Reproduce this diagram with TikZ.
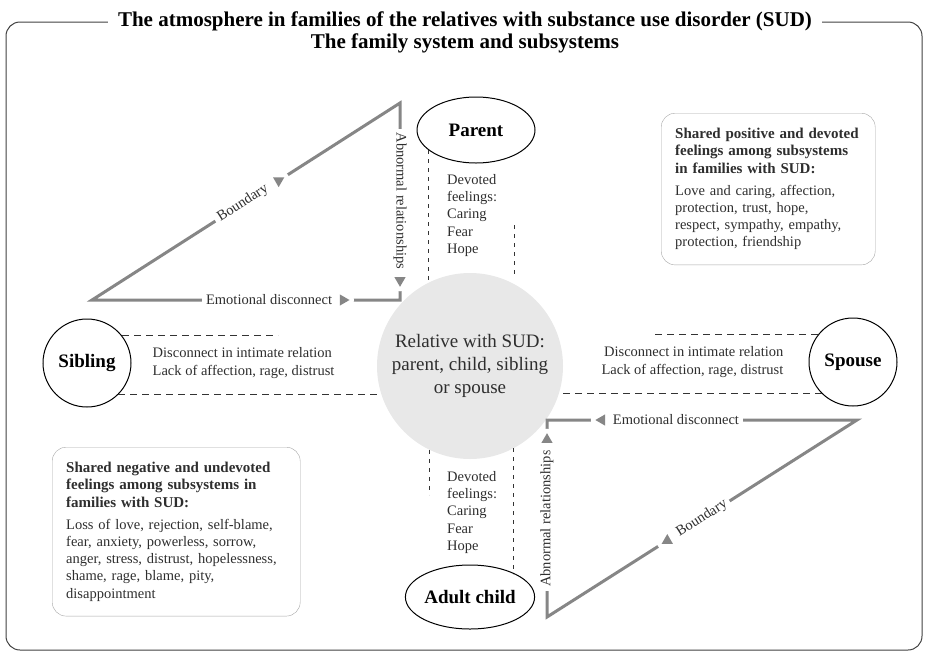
\documentclass[tikz,border=0pt]{standalone}
\usepackage{fontspec}
\setmainfont{Liberation Serif}
\usetikzlibrary{positioning, shapes.geometric}
\definecolor{linegray}{HTML}{868686}
\definecolor{fillgray}{HTML}{E8E8E8}
\definecolor{txt}{HTML}{2E2E2E}
\newcommand{\hdfont}{\fontsize{15}{17.2}\selectfont\bfseries}

\begin{document}
\begin{tikzpicture}[x=1pt, y=-1pt,
                person/.style={draw, line width=1pt, text=black, font=\fontsize{19}{22}\selectfont\bfseries, inner sep=0pt},
                tri/.style={draw=linegray, line width=3pt, line join=miter},
                divider/.style={draw=black!80, line width=0.8pt, dash pattern=on 7pt off 5pt},
                dividerv/.style={draw=black!80, line width=0.8pt, dash pattern=on 4pt off 5pt},
                lbl/.style={fill=white, text=txt, font=\fontsize{14.5}{16}\selectfont, inner xsep=4pt, inner ysep=1pt},
                mk/.style={circle, fill=white, minimum size=22pt, inner sep=0pt,
                    label={[regular polygon, regular polygon sides=3, fill=linegray, inner sep=0pt, minimum size=13pt, shape border rotate=#1]center:{}}},
                note/.style={text=txt, font=\fontsize{14.5}{17.3}\selectfont, align=left, inner sep=0pt},
                box/.style={draw=black!35, rounded corners=14pt, text=txt, font=\fontsize{14.5}{17.2}\selectfont, align=left, inner xsep=14pt, inner ysep=15pt, anchor=north west},
            ]
            \useasboundingbox (0,0) rectangle (926,654);

            % Frame and title
            \draw[black!75, line width=1pt, rounded corners=14pt] (6,22) rectangle (922,650);
            \node[fill=white, inner xsep=10pt, inner ysep=1pt, font=\fontsize{21}{23}\selectfont\bfseries] (title) at (465,21) {The atmosphere in families of the relatives with substance use disorder (SUD)};
            \node[font=\fontsize{21}{23}\selectfont\bfseries, inner ysep=2pt, below=0pt of title] (sub) {The family system and subsystems};

            % Relative in the middle
            \node[circle, fill=fillgray, minimum size=186pt, align=center, text=txt, font=\fontsize{19}{23}\selectfont] (rel) at (470,366) {Relative with SUD:\\parent, child, sibling\\or spouse};

            % Family members
            \node[person, ellipse, minimum width=118pt, minimum height=66pt] (par) at (476,130) {Parent};
            \node[person, ellipse, minimum width=116pt, minimum height=64pt] (chd) at (470,597) {Adult child};
            \node[person, circle, minimum size=88pt] (sib) at (87,363) {Sibling};
            \node[person, circle, minimum size=88pt] (spo) at (853,362) {Spouse};

            % Texts between the dashed lines
            \node[note, right=21pt of sib] (sibtxt) {Disconnect in intimate relation\\Lack of affection, rage, distrust};
            \node[note, align=right, left=25pt of spo] (spotxt) {Disconnect in intimate relation\\Lack of affection, rage, distrust};
            \node[note, anchor=north west] (partxt) at (447,174) {Devoted\\feelings:\\Caring\\Fear\\Hope};
            \node[note, anchor=north west] (chdtxt) at (447,471) {Devoted\\feelings:\\Caring\\Fear\\Hope};

            % Dashed lines
            \draw[divider] (sib.38) -- +(156,0);
            \draw[divider] (sib.-45) -- (sib.-45 -| rel.198);
            \draw[divider] (spo.142) -- +(-166,0);
            \draw[divider] (spo.225) -- (spo.225 -| rel.-18);
            \draw[dividerv] (par.203) -- (par.203 |- rel.116);
            \draw[dividerv] (514,225) -- (514,277);
            \draw[dividerv] (rel.244) -- +(0,45);
            \draw[dividerv] (rel.298) -- +(0,126);

            % Triangle between parent and sibling
            \coordinate (tlA) at (92,300);
            \coordinate (tlB) at (400,103);
            \coordinate (tlC) at (400,300);
            \draw[tri] (tlA) -- (tlB) -- (tlC) -- cycle;
            \path (tlA) -- (tlB) node[lbl, sloped, pos=0.49] (bnd1) {Boundary};
            \path (tlA) -- (tlB) node[mk=180, pos=0.606] (mk1) {};
            \path (tlB) -- (tlC) node[lbl, rotate=-90, pos=0.497] (abn1) {Abnormal relationships};
            \path (tlB) -- (tlC) node[mk=180, pos=0.9] (mk2) {};
            \path (tlA) -- (tlC) node[lbl, pos=0.575] (emo1) {Emotional disconnect};
            \path (tlA) -- (tlC) node[mk=-90, pos=0.815] (mk3) {};

            % Triangle between spouse and adult child
            \coordinate (brA) at (547,420);
            \coordinate (brB) at (857,420);
            \coordinate (brC) at (547,617);
            \draw[tri] (brA) -- (brB) -- (brC) -- cycle;
            \path (brA) -- (brB) node[lbl, pos=0.416] (emo2) {Emotional disconnect};
            \path (brA) -- (brB) node[mk=90, pos=0.177] (mk4) {};
            \path (brB) -- (brC) node[lbl, sloped, pos=0.5] (bnd2) {Boundary};
            \path (brB) -- (brC) node[mk=0, pos=0.612] (mk5) {};
            \path (brC) -- (brA) node[lbl, rotate=90, pos=0.5] (abn2) {Abnormal relationships};
            \path (brC) -- (brA) node[mk=0, pos=0.9] (mk6) {};

            % Shared feelings
            \node[box, text width=186pt] (posbox) at (661,113) {{\hdfont Shared positive and devoted}\\{\hdfont feelings among subsystems}\\{\hdfont in families with SUD:}\\[5pt]Love and caring, affection,\\protection, trust, hope,\\respect, sympathy, empathy,\\protection, friendship};
            \node[box, text width=220pt] (negbox) at (52,447) {{\hdfont Shared negative and undevoted}\\{\hdfont feelings among subsystems in}\\{\hdfont families with SUD:}\\[5pt]Loss of love, rejection, self-blame,\\fear, anxiety, powerless, sorrow,\\anger, stress, distrust, hopelessness,\\shame, rage, blame, pity,\\disappointment};

\end{tikzpicture}
\end{document}
